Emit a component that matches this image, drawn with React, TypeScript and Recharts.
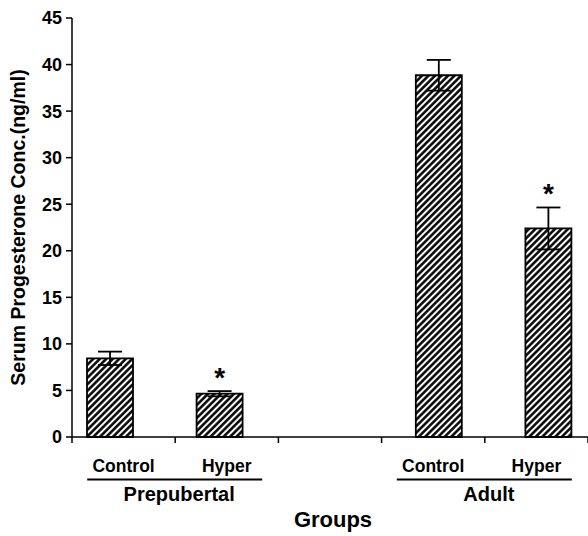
import React from 'react';
import { BarChart, Bar, XAxis, YAxis, ErrorBar, LabelList, Label } from 'recharts';

const treatments = ['Control', 'Hyper', '', 'Control', 'Hyper'];
const stages = ['Prepubertal', 'Prepubertal', '', 'Adult', 'Adult'];
const meanValues = [8.45, 4.65, null, 38.85, 22.4];
const errorValues = [0.72, 0.28, null, 1.65, 2.25];
const significance = ['', '*', '', '', '*'];
const yTicks = [0, 5, 10, 15, 20, 25, 30, 35, 40, 45];
const yTitle = 'Serum Progesterone Conc.(ng/ml)';
const xTitle = 'Groups';

const data = treatments.map((t, i) => ({
  key: `${stages[i]}-${t}-${i}`,
  value: meanValues[i],
  err: errorValues[i],
  sig: significance[i],
}));

// indices of the data rows that actually draw a bar
const drawnRows = meanValues.map((v, i) => (v == null ? -1 : i)).filter((i) => i >= 0);

const FONT = '"Liberation Sans", Arial, Helvetica, sans-serif';
const PLOT_WIDTH = 516;

const SlotTick = (props: any) => {
  const { x, y, payload, index } = props;
  const i = typeof index === 'number' ? index : payload.index;
  const half = payload && typeof payload.offset === 'number' && payload.offset > 0 ? payload.offset : PLOT_WIDTH / treatments.length / 2;
  const axisY = y - 6;
  const isLast = i === treatments.length - 1;
  const paired = !!stages[i] && stages[i] === stages[i + 1];
  return (
    <g>
      <line x1={x - half} x2={x - half} y1={axisY} y2={axisY + 6} stroke="#000" strokeWidth={1.5} />
      {isLast && <line x1={x + half} x2={x + half} y1={axisY} y2={axisY + 6} stroke="#000" strokeWidth={1.5} />}
      <text x={x} y={axisY + 35} textAnchor="middle" fontSize={17.5} fontWeight="bold" fontFamily={FONT} fill="#000">
        {treatments[i]}
      </text>
      {paired && (
        <line x1={x + half - 88} x2={x + half + 87} y1={axisY + 42.5} y2={axisY + 42.5} stroke="#000" strokeWidth={2} />
      )}
      {paired && (
        <text x={x + half + 4} y={axisY + 64} textAnchor="middle" fontSize={20} fontWeight="bold" fontFamily={FONT} fill="#000">
          {stages[i]}
        </text>
      )}
    </g>
  );
};

const AsteriskLabel = (props: any) => {
  const { x, y, width, height, value, index, payload } = props;
  if (!value) return null;
  let mean: number;
  let err: number;
  if (payload && typeof payload.value === 'number' && typeof payload.err === 'number') {
    mean = payload.value;
    err = payload.err;
  } else {
    const row = drawnRows[index] ?? index;
    mean = meanValues[row] as number;
    err = errorValues[row] as number;
  }
  const pxPerUnit = Math.abs(height) / mean;
  const cx = x + width / 2;
  const top = Math.min(y, y + height);
  const errTop = top - err * pxPerUnit;
  return (
    <text x={cx} y={errTop - 4} textAnchor="middle" fontSize={28} fontWeight="bold" fontFamily={FONT} fill="#000">
      {value}
    </text>
  );
};

const YTitle = (p: any) => {
  const vb = p.viewBox;
  return (
    <text
      transform={`translate(${vb.x + 17.5},${vb.y + vb.height / 2}) rotate(-90)`}
      textAnchor="middle"
      dominantBaseline="central"
      fontSize={19.5}
      fontWeight="bold"
      fontFamily={FONT}
      fill="#000"
    >
      {yTitle}
    </text>
  );
};

const XTitle = (p: any) => {
  const vb = p.viewBox;
  return (
    <text x={vb.x + vb.width / 2 + 3} y={vb.y + 90} textAnchor="middle" fontSize={22} fontWeight="bold" fontFamily={FONT} fill="#000">
      {xTitle}
    </text>
  );
};

export default function App() {
  return (
    <div style={{ position: 'absolute', left: 0, top: 0, width: 588, height: 536, background: '#fff' }}>
      <BarChart width={588} height={536} data={data} margin={{ top: 18, right: 0, bottom: 0, left: 0 }}>
        <defs>
          <pattern id="hatch" patternUnits="userSpaceOnUse" width={4.6} height={4.6} patternTransform="rotate(45)">
            <rect x={0} y={0} width={4.6} height={4.6} fill="#fff" />
            <line x1={2.3} y1={0} x2={2.3} y2={4.6} stroke="#000" strokeWidth={2.5} />
          </pattern>
        </defs>
        <XAxis xAxisId="bars" dataKey="key" hide height={0} padding={{ left: -17, right: -15 }} />
        <XAxis
          xAxisId="slots"
          dataKey="key"
          interval={0}
          tick={<SlotTick />}
          tickLine={false}
          tickSize={6}
          tickMargin={0}
          axisLine={{ stroke: '#000', strokeWidth: 1.5 }}
          height={99}
        >
          <Label content={<XTitle />} />
        </XAxis>
        <YAxis
          width={72}
          domain={[0, 45]}
          ticks={yTicks}
          interval={0}
          tickSize={6}
          tickMargin={4}
          tick={{ fontSize: 18, fontWeight: 'bold', fill: '#000', fontFamily: FONT }}
          axisLine={{ stroke: '#000', strokeWidth: 1.5 }}
          tickLine={{ stroke: '#000', strokeWidth: 1.5 }}
        >
          <Label content={<YTitle />} />
        </YAxis>
        <Bar
          xAxisId="bars"
          dataKey="value"
          barSize={46}
          fill="url(#hatch)"
          stroke="#000"
          strokeWidth={1.8}
          isAnimationActive={false}
        >
          <ErrorBar dataKey="err" width={12} stroke="#000" strokeWidth={1.8} isAnimationActive={false} />
          <LabelList dataKey="sig" content={<AsteriskLabel />} />
        </Bar>
      </BarChart>
    </div>
  );
}
